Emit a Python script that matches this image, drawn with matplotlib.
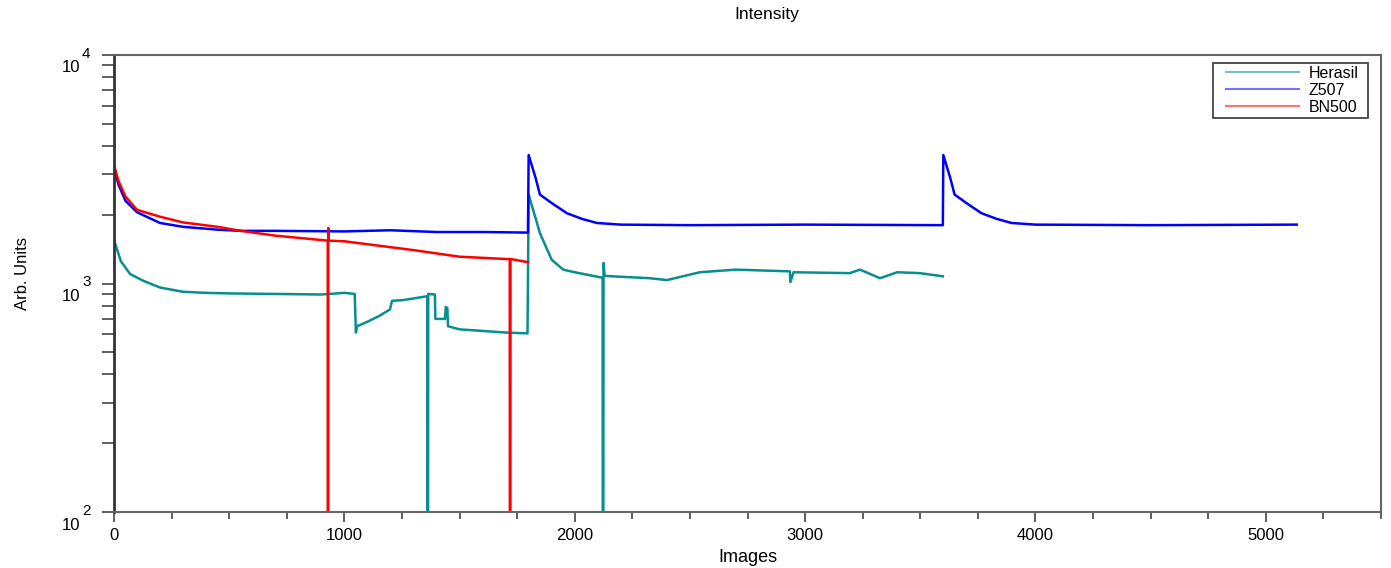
import numpy as np
import matplotlib
matplotlib.use('Agg')
import matplotlib.pyplot as plt
from matplotlib.patches import Rectangle
from matplotlib.ticker import MultipleLocator, LogLocator, NullFormatter

# Herasil (teal), 1.0 = spike to the floor
herasil_x = [0, 30, 70, 125, 200, 300, 400, 500, 700, 900, 1000, 1045,
             1050, 1055, 1100, 1150, 1198, 1207, 1250, 1300, 1360, 1362, 1364,
             1393, 1395, 1437, 1440, 1447, 1450, 1500, 1600, 1700, 1795,
             1800, 1849, 1900, 1950, 2000, 2110, 2121, 2123, 2125, 2130,
             2200, 2325, 2400, 2543, 2700, 2934, 2936, 2950, 3194, 3238,
             3325, 3400, 3498, 3598]
herasil_y = [1550, 1250, 1100, 1030, 960, 920, 910, 905, 900, 895, 910, 900,
             610, 650, 680, 720, 770, 840, 845, 860, 880, 1.0, 900,
             895, 700, 700, 790, 780, 650, 630, 620, 610, 605,
             2450, 1660, 1270, 1150, 1120, 1065, 1060, 1.0, 1230, 1080,
             1070, 1055, 1035, 1120, 1150, 1130, 1015, 1120, 1110, 1150,
             1055, 1120, 1110, 1075]

# Z507 (blue)
z507_x = [0, 20, 50, 100, 200, 300, 450, 550, 700, 1000, 1200, 1400, 1600,
          1797, 1800, 1830, 1849, 1900, 1966, 2030, 2096, 2200, 2500, 3000,
          3598, 3600, 3630, 3649, 3700, 3766, 3830, 3896, 4000, 4500, 5134]
z507_y = [3200, 2700, 2300, 2050, 1840, 1770, 1720, 1700, 1700, 1690, 1710,
          1680, 1680, 1670, 3650, 2900, 2450, 2250, 2030, 1920, 1840, 1810,
          1800, 1810, 1800, 3650, 2900, 2450, 2250, 2030, 1920, 1840, 1810,
          1800, 1810]

# BN500 (red)
bn500_x = [0, 20, 50, 100, 200, 300, 450, 550, 700, 928, 929, 930, 932,
           1000, 1300, 1500, 1700, 1718, 1719, 1721, 1797]
bn500_y = [3300, 2800, 2400, 2100, 1960, 1850, 1770, 1700, 1620, 1540, 1.0,
           1750, 1540, 1530, 1400, 1310, 1280, 1280, 1.0, 1280, 1240]

series_names = ['Herasil', 'Z507', 'BN500']
series_colors = ['#078f8f', '#0000ff', '#ff0000']
decades = [2, 3, 4]

W, H = 1391, 568
fig = plt.figure(figsize=(W / 100, H / 100), dpi=100)
ax = fig.add_axes([114 / W, 1 - 512 / H, (1381 - 114) / W, (512 - 55) / H])

for xs, ys, name, c in zip([herasil_x, z507_x, bn500_x],
                           [herasil_y, z507_y, bn500_y],
                           series_names, series_colors):
    ax.plot(xs, ys, color=c, lw=1.8, label=name)

ax.set_yscale('log')
ax.set_ylim(100, 10000)
ax.set_xlim(0, 5500)

ax.xaxis.set_major_locator(MultipleLocator(1000))
ax.xaxis.set_minor_locator(MultipleLocator(250))
ax.yaxis.set_major_locator(LogLocator(base=10))
ax.yaxis.set_minor_locator(LogLocator(base=10, subs=np.arange(2, 10)))
ax.yaxis.set_major_formatter(NullFormatter())
ax.yaxis.set_minor_formatter(NullFormatter())

tc = '#444444'
ax.tick_params(axis='x', which='major', direction='out', length=7.2, width=1.2,
               color=tc, pad=4, labelsize=12)
ax.tick_params(axis='x', which='minor', direction='out', length=5, width=1.2, color=tc)
ax.tick_params(axis='y', which='both', direction='out', length=8.6, width=1.2, color=tc)
for lab in ax.get_xticklabels():
    lab.set_family('Liberation Sans')

for s in ['top', 'right', 'bottom']:
    ax.spines[s].set_color('#666666')
    ax.spines[s].set_linewidth(1.5)
ax.spines['left'].set_color('#333333')
ax.spines['left'].set_linewidth(2)

# y labels: "10" below the tick, exponent level with it
for e in decades:
    ax.annotate('10', xy=(0, 10 ** e), xycoords=('axes fraction', 'data'),
                xytext=(-34, -13), textcoords='offset pixels', ha='right',
                va='center', fontsize=12, family='Liberation Sans', annotation_clip=False)
    ax.annotate(str(e), xy=(0, 10 ** e), xycoords=('axes fraction', 'data'),
                xytext=(-32, 1), textcoords='offset pixels', ha='left',
                va='center', fontsize=11, family='Liberation Sans', annotation_clip=False)

fig.text(767 / W, 1 - 15 / H, 'Intensity', ha='center', va='center',
         fontsize=12.5, family='Liberation Sans')
fig.text(748 / W, 1 - 557 / H, 'Images', ha='center', va='center',
         fontsize=13, family='Liberation Sans')
fig.text(23 / W, 1 - 273 / H, 'Arb. Units', ha='center', va='center',
         rotation=90, fontsize=12, family='Liberation Sans')

leg = fig.legend(loc='upper left', bbox_to_anchor=(1226 / W, 1 - 66 / H),
                 frameon=False, handlelength=4.6, handletextpad=0.55,
                 labelspacing=0.12, borderpad=0, borderaxespad=0,
                 prop={'family': 'Liberation Sans', 'size': 11.5})
for h in leg.legend_handles:
    h.set_alpha(0.55)
    h.set_linewidth(1.5)
fig.patches.append(Rectangle((1213 / W, 1 - 118 / H), (1368 - 1213) / W, (118 - 63) / H,
                             transform=fig.transFigure, fill=False,
                             edgecolor='#444444', lw=1.3))

fig.savefig('out.png', dpi=100)
